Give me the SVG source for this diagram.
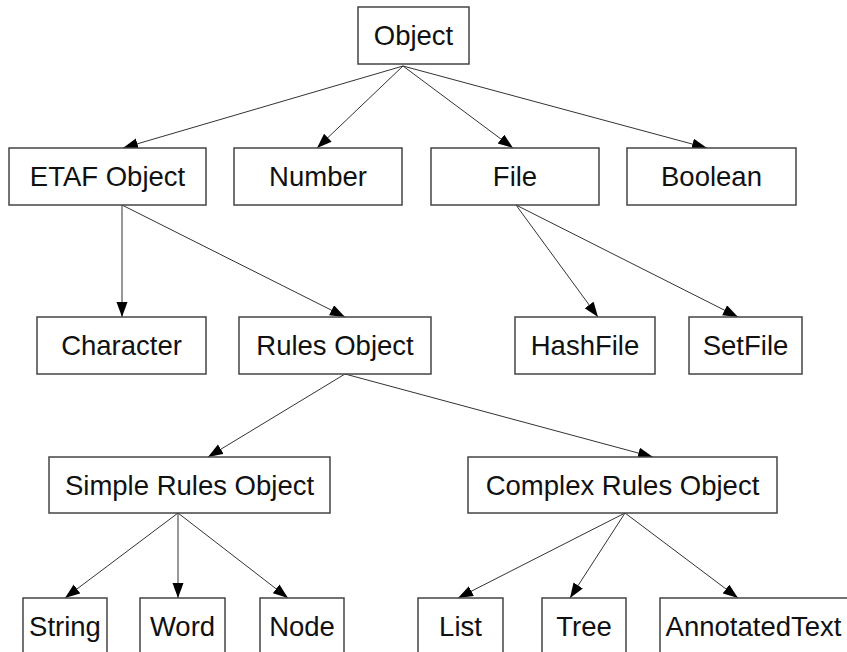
<svg xmlns="http://www.w3.org/2000/svg" width="847" height="652" viewBox="0 0 847 652">
<style>
.box{fill:#fff;stroke:#444;stroke-width:1.5}
.lbl{font-family:"Liberation Sans",Arial,sans-serif;font-size:27.5px;fill:#111;text-anchor:middle}
.edge{stroke:#333;stroke-width:1;fill:none;marker-end:url(#arr)}
</style>
<defs>
<marker id="arr" markerUnits="userSpaceOnUse" markerWidth="16" markerHeight="12" refX="15" refY="5.5" orient="auto">
<path d="M0,0 L15,5.5 L0,11 z" fill="#000"/>
</marker>
</defs>
<rect width="847" height="652" fill="#fff"/>
<g id="connectors">
<line class="edge" x1="403" y1="66" x2="123" y2="148"/>
<line class="edge" x1="403" y1="66" x2="317" y2="148"/>
<line class="edge" x1="403" y1="66" x2="513" y2="148"/>
<line class="edge" x1="403" y1="66" x2="707" y2="148"/>
<line class="edge" x1="122" y1="205" x2="122" y2="317"/>
<line class="edge" x1="122" y1="205" x2="345" y2="317"/>
<line class="edge" x1="516" y1="205" x2="598" y2="317"/>
<line class="edge" x1="516" y1="205" x2="738" y2="317"/>
<line class="edge" x1="345" y1="374" x2="208" y2="457"/>
<line class="edge" x1="345" y1="374" x2="653" y2="457"/>
<line class="edge" x1="178" y1="513" x2="65" y2="598"/>
<line class="edge" x1="178" y1="513" x2="178" y2="598"/>
<line class="edge" x1="178" y1="513" x2="288" y2="598"/>
<line class="edge" x1="625" y1="513" x2="458" y2="598"/>
<line class="edge" x1="625" y1="513" x2="570" y2="598"/>
<line class="edge" x1="625" y1="513" x2="738" y2="598"/>
</g>
<g id="object"><rect class="box" x="358" y="7" width="111" height="57"/><text class="lbl" x="413.5" y="44.5">Object</text></g>
<g id="etaf"><rect class="box" x="9" y="148" width="197" height="57"/><text class="lbl" x="107.5" y="185.5">ETAF Object</text></g>
<g id="number"><rect class="box" x="234" y="148" width="168" height="57"/><text class="lbl" x="318" y="185.5">Number</text></g>
<g id="file"><rect class="box" x="431" y="148" width="168" height="57"/><text class="lbl" x="515" y="185.5">File</text></g>
<g id="boolean"><rect class="box" x="627" y="148" width="169" height="57"/><text class="lbl" x="711.5" y="185.5">Boolean</text></g>
<g id="character"><rect class="box" x="37" y="317" width="169" height="57"/><text class="lbl" x="121.5" y="354.5">Character</text></g>
<g id="rules"><rect class="box" x="239" y="317" width="192" height="57"/><text class="lbl" x="335" y="354.5">Rules Object</text></g>
<g id="hashfile"><rect class="box" x="515" y="317" width="140" height="57"/><text class="lbl" x="585" y="354.5">HashFile</text></g>
<g id="setfile"><rect class="box" x="689" y="317" width="113" height="57"/><text class="lbl" x="745.5" y="354.5">SetFile</text></g>
<g id="simple"><rect class="box" x="49" y="457" width="281" height="56"/><text class="lbl" x="189.5" y="494.5">Simple Rules Object</text></g>
<g id="complex"><rect class="box" x="468" y="457" width="309" height="56"/><text class="lbl" x="622.5" y="494.5">Complex Rules Object</text></g>
<g id="string"><rect class="box" x="23" y="598" width="84" height="57"/><text class="lbl" x="65" y="635.5">String</text></g>
<g id="word"><rect class="box" x="140" y="598" width="85" height="57"/><text class="lbl" x="182.5" y="635.5">Word</text></g>
<g id="node"><rect class="box" x="260" y="598" width="84" height="57"/><text class="lbl" x="302" y="635.5">Node</text></g>
<g id="list"><rect class="box" x="418" y="598" width="85" height="57"/><text class="lbl" x="460.5" y="635.5">List</text></g>
<g id="tree"><rect class="box" x="542" y="598" width="84" height="57"/><text class="lbl" x="584" y="635.5">Tree</text></g>
<g id="annotated"><rect class="box" x="660" y="598" width="192" height="57"/><text class="lbl" x="753.5" y="635.5">AnnotatedText</text></g>
</svg>
